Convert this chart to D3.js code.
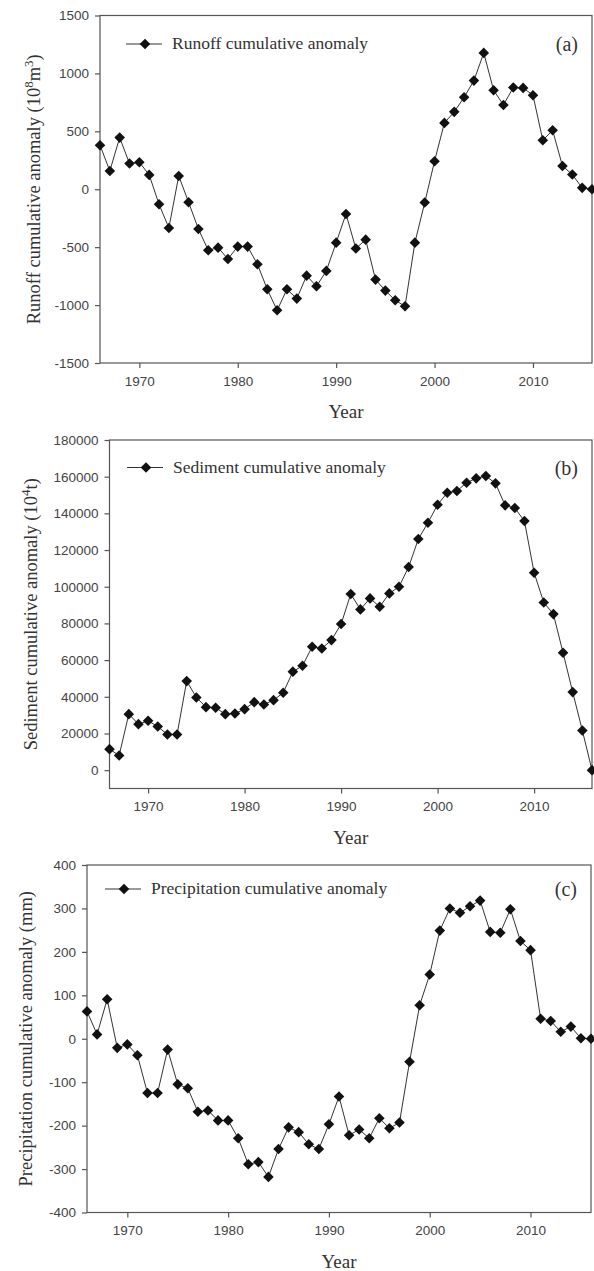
<!DOCTYPE html>
<html>
<head>
<meta charset="utf-8">
<script src="https://cdn.jsdelivr.net/npm/d3@7"></script>
<style>
  body { margin: 0; background: #fff; }
  svg { display: block; }
</style>
</head>
<body>
<svg id="chart" width="594" height="1271"></svg>
<script>
// years 1966..2016
const years = d3.range(1966, 2017);

const runoff = [380, 158, 446, 222, 233, 124, -130, -334, 115, -112,
  -343, -527, -504, -602, -495, -495, -648, -864, -1045, -864,
  -944, -746, -838, -705, -461, -213, -512, -435, -780, -875,
  -959, -1010, -461, -115, 242, 573, 668, 794, 938, 1177,
  855, 728, 878, 875, 812, 423, 509, 201, 127, 12, 0];

const sediment = [11450, 8000, 30545, 25090, 26900, 23800, 19450, 19450, 48550, 39640,
  34360, 34000, 30545, 30900, 33270, 37090, 35820, 38180, 42180, 53700,
  56900, 67270, 66360, 70900, 79640, 96000, 87640, 93640, 89090, 96360,
  100000, 110730, 126000, 134900, 144730, 151270, 152180, 156730, 159090, 160360,
  156360, 144360, 142900, 135820, 107640, 91450, 85090, 64000, 42550, 21640, 0];

const precipitation = [63, 10, 91, -21, -13, -38, -125, -125, -25, -105,
  -114, -168, -165, -188, -188, -229, -289, -284, -318, -254,
  -204, -215, -243, -254, -197, -133, -222, -209, -229, -183,
  -206, -193, -53, 77, 148, 249, 300, 290, 305, 318,
  246, 244, 298, 225, 204, 46, 41, 16, 28, 1, 0];

const xTicks = [1970, 1980, 1990, 2000, 2010];
const runoffTicks = [-1500, -1000, -500, 0, 500, 1000, 1500];
const sedimentTicks = [0, 20000, 40000, 60000, 80000, 100000, 120000, 140000, 160000, 180000];
const precipTicks = [-400, -300, -200, -100, 0, 100, 200, 300, 400];

const svg = d3.select("#chart");
const serif = "'Liberation Serif', 'Times New Roman', serif";
const sans = "'Liberation Sans', Arial, sans-serif";
// plain hyphen for negatives, like the original
const fmt = d => (d < 0 ? "-" + Math.abs(d) : String(d));

function drawPanel(p) {
  const x = d3.scaleLinear().domain([1966, 2016]).range([p.left, p.right]);
  const y = d3.scaleLinear().domain(p.yDomain).range([p.bottom, p.top]);
  const g = svg.append("g");

  // frame
  g.append("rect")
    .attr("x", p.left).attr("y", p.top)
    .attr("width", p.right - p.left).attr("height", p.bottom - p.top)
    .attr("fill", "none").attr("stroke", "#555").attr("stroke-width", 1.2);

  const xAxis = g.append("g")
    .attr("transform", `translate(0,${p.bottom})`)
    .call(d3.axisBottom(x).tickValues(xTicks).tickFormat(fmt).tickSize(5).tickPadding(8));
  const yAxis = g.append("g")
    .attr("transform", `translate(${p.left},0)`)
    .call(d3.axisLeft(y).tickValues(p.yTicks).tickFormat(fmt).tickSize(5).tickPadding(6));
  [xAxis, yAxis].forEach(a => {
    a.select(".domain").remove();
    a.selectAll(".tick line").attr("stroke", "#555").attr("stroke-width", 1.2);
    a.selectAll(".tick text")
      .attr("font-family", sans).attr("font-size", 13.5).attr("fill", "#444");
  });

  // series line + diamonds
  const line = d3.line().x((d, i) => x(years[i])).y(d => y(d));
  g.append("path").datum(p.values)
    .attr("d", line).attr("fill", "none")
    .attr("stroke", "#333").attr("stroke-width", 1);

  const diamond = d3.symbol().type(d3.symbolSquare).size(56);
  g.selectAll(".pt").data(p.values).enter().append("path")
    .attr("class", "pt")
    .attr("d", diamond)
    .attr("transform", (d, i) => `translate(${x(years[i])},${y(d)}) rotate(45)`)
    .attr("fill", "#111");

  // legend
  g.append("line")
    .attr("x1", p.legX).attr("x2", p.legX + 36)
    .attr("y1", p.legY).attr("y2", p.legY)
    .attr("stroke", "#333").attr("stroke-width", 1);
  g.append("path").attr("d", diamond)
    .attr("transform", `translate(${p.legX + 19},${p.legY}) rotate(45)`)
    .attr("fill", "#111");
  g.append("text")
    .attr("x", p.legX + 46).attr("y", p.legY + 5)
    .attr("font-family", serif).attr("font-size", 17.5).attr("fill", "#333")
    .text(p.legend);

  // panel label
  g.append("text")
    .attr("x", p.right - 14).attr("y", p.legY + 7)
    .attr("text-anchor", "end")
    .attr("font-family", serif).attr("font-size", 20).attr("fill", "#333")
    .text(p.label);

  // x title
  g.append("text")
    .attr("x", (p.left + p.right) / 2).attr("y", p.bottom + 55)
    .attr("text-anchor", "middle")
    .attr("font-family", serif).attr("font-size", 19).attr("fill", "#333")
    .text("Year");

  // y title
  const yt = g.append("text")
    .attr("transform", `translate(${p.yTitleX},${(p.top + p.bottom) / 2}) rotate(-90)`)
    .attr("text-anchor", "middle")
    .attr("font-family", serif).attr("font-size", 18.5).attr("fill", "#333");
  p.yTitle.forEach(part => {
    const t = yt.append("tspan").text(part.t);
    if (part.sup) t.attr("baseline-shift", "super").attr("font-size", 13);
  });
}

drawPanel({
  values: runoff, yDomain: [-1500, 1500], yTicks: runoffTicks,
  left: 100, right: 592, top: 15.5, bottom: 363,
  legX: 126, legY: 44, legend: "Runoff cumulative anomaly", label: "(a)",
  yTitleX: 40,
  yTitle: [{ t: "Runoff cumulative anomaly (10" }, { t: "8", sup: true }, { t: "m" }, { t: "3", sup: true }, { t: ")" }]
});

drawPanel({
  values: sediment, yDomain: [-10000, 180000], yTicks: sedimentTicks,
  left: 109.5, right: 592, top: 440, bottom: 788.5,
  legX: 127, legY: 467.5, legend: "Sediment cumulative anomaly", label: "(b)",
  yTitleX: 37,
  yTitle: [{ t: "Sediment cumulative anomaly (10" }, { t: "4", sup: true }, { t: "t)" }]
});

drawPanel({
  values: precipitation, yDomain: [-400, 400], yTicks: precipTicks,
  left: 87, right: 591, top: 865, bottom: 1212.5,
  legX: 105, legY: 889, legend: "Precipitation cumulative anomaly", label: "(c)",
  yTitleX: 32,
  yTitle: [{ t: "Precipitation cumulative anomaly (mm)" }]
});
</script>
</body>
</html>
